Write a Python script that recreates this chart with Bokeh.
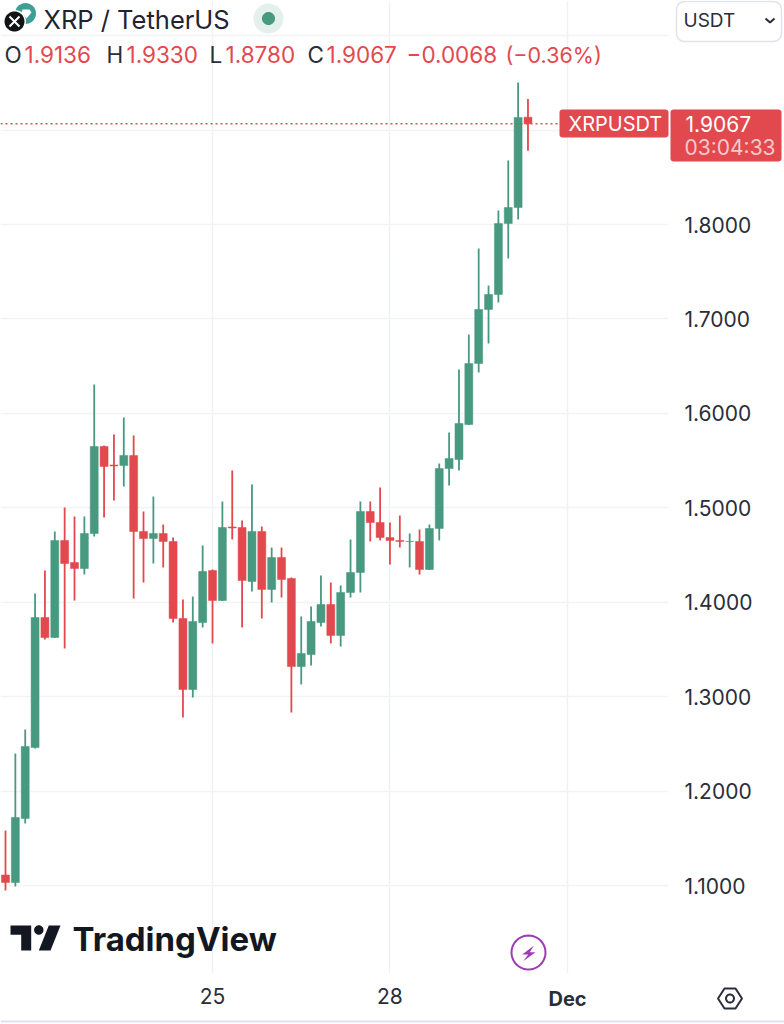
import numpy as np
from bokeh.core.properties import value
from bokeh.embed import file_html
from bokeh.layouts import column
from bokeh.resources import INLINE
from bokeh.plotting import figure
from bokeh.models import ColumnDataSource, FixedTicker

opens = [1.1111,1.1032,1.1710,1.2461,1.3838,1.3626,1.4654,1.4421,1.4357,1.4728,1.5649,1.5453,1.5448,1.5554,1.4749,1.4675,1.4728,1.4643,1.3828,1.3076,1.3785,1.4336,1.4018,1.4797,1.4791,1.4219,1.4749,1.4135,1.4474,1.4251,1.3319,1.3446,1.3785,1.3976,1.3648,1.4103,1.4315,1.4961,1.4844,1.4685,1.4654,1.4643,1.4643,1.4346,1.4781,1.5416,1.5511,1.5882,1.6528,1.7100,1.7259,1.8011,1.8180,1.9136]
highs = [1.1582,1.2398,1.2652,1.4092,1.4336,1.4749,1.5003,1.4908,1.4908,1.6306,1.5660,1.5776,1.5956,1.5766,1.4961,1.5120,1.4823,1.4685,1.4029,1.4061,1.4601,1.4347,1.5067,1.5395,1.4865,1.5247,1.4802,1.4579,1.4579,1.4262,1.3849,1.3955,1.4283,1.4209,1.4177,1.4664,1.5067,1.5067,1.5215,1.4844,1.4918,1.4728,1.4770,1.4823,1.5469,1.5797,1.6464,1.6835,1.7746,1.7354,1.8148,1.8678,1.9504,1.9330]
lows = [1.0947,1.0989,1.1657,1.2451,1.3605,1.3621,1.3510,1.4018,1.4293,1.4696,1.4897,1.5077,1.5225,1.4039,1.4209,1.4410,1.4368,1.3785,1.2779,1.2991,1.3732,1.3563,1.4013,1.4664,1.3732,1.4113,1.3828,1.3997,1.4050,1.2832,1.3129,1.3330,1.3743,1.3563,1.3531,1.4050,1.4103,1.4643,1.4654,1.4399,1.4579,1.4368,1.4293,1.4341,1.4654,1.5236,1.5395,1.5877,1.6433,1.6740,1.7174,1.7640,1.8053,1.8780]
closes = [1.1032,1.1720,1.2472,1.3838,1.3626,1.4654,1.4410,1.4357,1.4728,1.5649,1.5437,1.5443,1.5554,1.4749,1.4675,1.4728,1.4643,1.3828,1.3076,1.3796,1.4325,1.4018,1.4791,1.4786,1.4230,1.4749,1.4135,1.4474,1.4241,1.3319,1.3457,1.3796,1.3976,1.3648,1.4103,1.4315,1.4961,1.4844,1.4685,1.4654,1.4643,1.4643,1.4346,1.4781,1.5416,1.5522,1.5893,1.6528,1.7100,1.7259,1.8011,1.8180,1.9133,1.9067]
price_ticks = [1.1,1.2,1.3,1.4,1.5,1.6,1.7,1.8,1.9,2.0]
price_labels = ["1.1000","1.2000","1.3000","1.4000","1.5000","1.6000","1.7000","1.8000","",""]
date_ticks = [21,39,57]
date_labels = ["25","28",""]

GREEN = "#479980"; RED = "#E2494F"; INK = "#2A2E39"; FONT = "Inter"
W, H, FW, FH = 784, 1024, 668, 973
STEP = 9.858; X0 = 5.0; PY = 944.3

def xd(px): return (px - X0) / STEP
def yd(py): return 1.8 + (224 - py) / PY

p = figure(width=W, height=H, frame_width=FW, frame_height=FH, output_backend="svg",
           toolbar_location=None, x_range=(xd(0), xd(FW)), y_range=(yd(FH), yd(0)),
           y_axis_location="right", min_border_left=0, min_border_top=0,
           min_border_right=W-FW, min_border_bottom=H-FH, outline_line_color=None,
           background_fill_color=None, border_fill_color=None)

ya = p.yaxis[0]; xa = p.xaxis[0]
ya.ticker = FixedTicker(ticks=price_ticks)
ya.major_label_overrides = dict(zip(price_ticks, price_labels))
xa.ticker = FixedTicker(ticks=date_ticks)
xa.major_label_overrides = dict(zip(date_ticks, date_labels))
for a in (xa, ya):
    a.axis_line_color = None
    a.major_tick_line_color = None
    a.minor_tick_line_color = None
    a.major_label_text_font = FONT
    a.major_label_text_font_size = "21px"
    a.major_label_text_color = INK
ya.major_label_standoff = 10
xa.major_label_standoff = 8
for g, c in ((p.xgrid[0], "#F0F1F4"), (p.ygrid[0], "#F2F3F5")):
    g.grid_line_color = c
    g.grid_line_width = 1.5
p.xgrid[0].ticker = xa.ticker
p.ygrid[0].ticker = ya.ticker

idx = list(range(len(opens)))
colors = [GREEN if c >= o else RED for o, c in zip(opens, closes)]
src = ColumnDataSource(dict(x=idx, o=opens, h=highs, l=lows, c=closes, col=colors))
p.segment("x", "h", "x", "l", source=src, line_color="col", line_width=1.8)
p.vbar("x", 0.81, "o", "c", source=src, fill_color="col", line_color="col", line_width=0.5)

# last price line
p.line([xd(0), xd(559)], [closes[-1], closes[-1]], line_color=RED, line_width=1.3, line_dash="2 3")

# transparent page-sized layer for the furniture around the chart (one unit = one pixel)
ov = figure(width=W, height=H, frame_width=W, frame_height=H, output_backend="svg",
            toolbar_location=None, x_range=(0, W), y_range=(H, 0), x_axis_location=None,
            y_axis_location=None, min_border=0, outline_line_color=None,
            background_fill_color=None, border_fill_color=None)
ov.grid.visible = False
ov.margin = (-H, 0, 0, 0)


def text(px, py, s, size=20, color=INK, align="left", style="normal"):
    ov.text([px], [py], text=[s], text_font=value(FONT), text_font_size=f"{size}px",
            text_color=color, text_align=align, text_baseline="middle", text_font_style=style)


def poly(pts, fill=None, line=None, width=2):
    ov.patch([float(a) for a, _ in pts] + [float(pts[0][0])],
             [float(b) for _, b in pts] + [float(pts[0][1])],
             fill_color=fill, fill_alpha=1 if fill else 0,
             line_color=line, line_alpha=1 if line else 0, line_width=width)


def circle_pts(cx, cy, r, n=40):
    t = np.linspace(0, 2*np.pi, n, endpoint=False)
    return list(zip(cx + r*np.cos(t), cy + r*np.sin(t)))


def box(l, r, t, b, fill=None, line=None, radius=0):
    pts = []
    for cx, cy, a0 in ((r-radius, t+radius, -90), (r-radius, b-radius, 0),
                       (l+radius, b-radius, 90), (l+radius, t+radius, 180)):
        for a in np.radians(np.linspace(a0, a0+90, 6)):
            pts.append((cx + radius*np.cos(a), cy + radius*np.sin(a)))
    poly(pts, fill=fill, line=line, width=1.5)


# header
poly(circle_pts(25, 13, 10.5), fill="#3F9E96")
poly([(22, 9), (29, 9), (31, 12), (26, 18), (21, 12)], fill="white")
poly(circle_pts(14, 21, 11.5), fill="white")
poly(circle_pts(14, 21, 10), fill="#131416")
ov.multi_line([[9, 14, 19], [9, 14, 19]], [[16, 21, 16], [26, 21, 26]], line_color="white", line_width=2)
text(43, 19, "XRP / TetherUS", size=25.5, color="#1F2430")
poly(circle_pts(268, 18, 15), fill="#E3F0EC")
poly(circle_pts(268, 18, 6.5), fill=GREEN)

for px, s, col, sz in [(4, "O", INK, 22.5), (24, "1.9136", RED, 22.5), (106, "H", INK, 22.5),
                       (126, "1.9330", RED, 22.5), (209, "L", INK, 22.5), (225, "1.8780", RED, 22.5),
                       (307, "C", INK, 22.5), (326, "1.9067", RED, 22.5),
                       (406, "\u22120.0068", RED, 22.5), (505, "(\u22120.36%)", RED, 21.5)]:
    text(px, 54, s, size=sz, color=col)

# USDT button
box(676, 781, 1, 41, fill="white", line="#E0E3EB", radius=8)
text(683, 20, "USDT", size=19)
ov.line([765, 769.5, 774], [18, 22, 18], line_color=INK, line_width=2)

# price tags
box(559, 668, 109, 137, fill=RED, radius=3)
box(670, 781, 109, 161, fill=RED, radius=3)
text(568, 123, "XRPUSDT", size=20, color="white")
text(685, 123, "1.9067", size=21, color="white")
text(684, 147, "03:04:33", size=21, color="#F5C8CA")

# TradingView logo
LOGO = "#131722"
poly([(10, 925), (30.7, 925), (30.7, 950), (20.7, 950), (20.7, 934.3), (10, 934.3)], fill=LOGO)
poly(circle_pts(38.3, 929.5, 4.7), fill=LOGO)
poly([(48.3, 925), (60, 925), (50, 950), (38.3, 950)], fill=LOGO)
text(72, 938, "TradingView", size=33, color=LOGO, style="bold")

# bolt icon
poly(circle_pts(528, 952, 17), fill="white", line="#9C3DB4", width=2)
poly([(533.3, 945.3), (521.7, 954), (527.7, 954), (522.7, 960.7), (535, 951.7), (529.3, 951.7)], fill="#9C3DB4")

# bottom strip
text(567, 998, "Dec", size=20, align="center", style="bold")
poly([(717.5, 998), (724, 988), (735, 988), (741.5, 998), (735, 1008), (724, 1008)], line=INK, width=2)
poly(circle_pts(729.5, 998, 4), line=INK, width=2)
box(0, 784, 1020, 1022, fill="#E0E3EB")

open("out.html", "w").write(file_html(column(p, ov), INLINE))
